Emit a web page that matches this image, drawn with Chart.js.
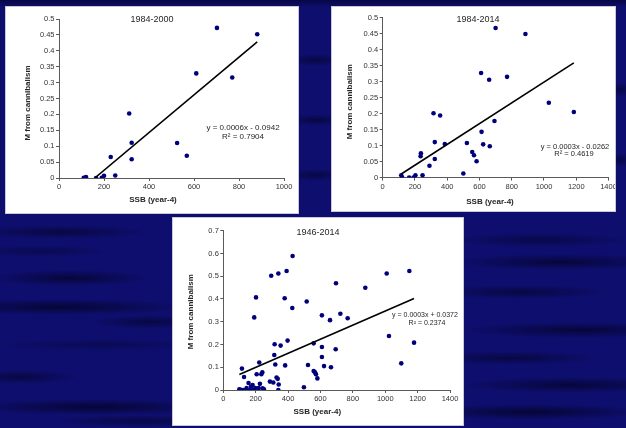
<!DOCTYPE html>
<html>
<head>
<meta charset="utf-8">
<script src="https://cdn.jsdelivr.net/npm/chart.js@4.4.1/dist/chart.umd.min.js"></script>
<style>
  html, body { margin: 0; padding: 0; }
  body {
    width: 626px; height: 428px; overflow: hidden; position: relative;
    background-color: #0e0e6e;
    background-image:
      linear-gradient(180deg, rgba(0,0,25,0.5) 0px, rgba(0,0,25,0) 7px),
      radial-gradient(ellipse 90px 7px at 60px 232px, rgba(0,0,25,0.5), rgba(0,0,25,0)),
      radial-gradient(ellipse 70px 6px at 40px 251px, rgba(0,0,25,0.35), rgba(0,0,25,0)),
      radial-gradient(ellipse 80px 8px at 70px 278px, rgba(0,0,25,0.6), rgba(0,0,25,0)),
      radial-gradient(ellipse 130px 8px at 60px 307px, rgba(0,0,25,0.65), rgba(0,0,25,0)),
      radial-gradient(ellipse 60px 7px at 150px 322px, rgba(0,0,25,0.5), rgba(0,0,25,0)),
      radial-gradient(ellipse 110px 6px at 100px 345px, rgba(0,0,25,0.3), rgba(0,0,25,0)),
      radial-gradient(ellipse 60px 7px at 20px 377px, rgba(0,0,25,0.5), rgba(0,0,25,0)),
      radial-gradient(ellipse 130px 8px at 95px 407px, rgba(0,0,25,0.65), rgba(0,0,25,0)),
      radial-gradient(ellipse 90px 6px at 140px 421px, rgba(0,0,25,0.45), rgba(0,0,25,0)),
      radial-gradient(ellipse 90px 7px at 540px 240px, rgba(0,0,25,0.45), rgba(0,0,25,0)),
      radial-gradient(ellipse 110px 8px at 560px 262px, rgba(0,0,25,0.6), rgba(0,0,25,0)),
      radial-gradient(ellipse 90px 7px at 520px 292px, rgba(0,0,25,0.5), rgba(0,0,25,0)),
      radial-gradient(ellipse 120px 8px at 580px 330px, rgba(0,0,25,0.6), rgba(0,0,25,0)),
      radial-gradient(ellipse 90px 7px at 510px 358px, rgba(0,0,25,0.5), rgba(0,0,25,0)),
      radial-gradient(ellipse 110px 8px at 570px 385px, rgba(0,0,25,0.6), rgba(0,0,25,0)),
      radial-gradient(ellipse 120px 8px at 530px 412px, rgba(0,0,25,0.65), rgba(0,0,25,0)),
      radial-gradient(ellipse 30px 6px at 315px 60px, rgba(0,0,25,0.5), rgba(0,0,25,0)),
      radial-gradient(ellipse 30px 6px at 315px 120px, rgba(0,0,25,0.5), rgba(0,0,25,0)),
      radial-gradient(ellipse 30px 6px at 315px 175px, rgba(0,0,25,0.5), rgba(0,0,25,0)),
      radial-gradient(ellipse 14px 7px at 620px 90px, rgba(0,0,25,0.5), rgba(0,0,25,0)),
      radial-gradient(ellipse 14px 7px at 620px 160px, rgba(0,0,25,0.5), rgba(0,0,25,0));
  }
  .panel { position: absolute; background: #ffffff; box-shadow: 0 0 0 1px #c9c9d6; }
  .panel canvas { display: block; }
</style>
</head>
<body>
<div class="panel" style="left:6px;top:7px;width:292px;height:206px"><canvas id="c1" width="292" height="206"></canvas></div>
<div class="panel" style="left:332px;top:7px;width:283px;height:204px"><canvas id="c2" width="283" height="204"></canvas></div>
<div class="panel" style="left:173px;top:218px;width:290px;height:207px"><canvas id="c3" width="290" height="207"></canvas></div>
<script>
// Spawning stock biomass (SSB, year-4) and natural mortality from cannibalism, by period
const periods = ['1984-2000', '1984-2014', '1946-2014'];

const ssb1984_2000 = [110, 120, 165, 190, 200, 250, 230, 312, 323, 323, 525, 568, 610, 702, 770, 881];
const m1984_2000   = [0.001, 0.003, 0, 0.001, 0.007, 0.008, 0.066, 0.203, 0.111, 0.059, 0.110, 0.070, 0.329, 0.472, 0.316, 0.452];

const ssb1984_2014 = [115, 121, 164, 191, 203, 247, 235, 237, 290, 315, 323, 323, 356, 385, 500, 522, 555, 566, 582, 610, 613, 623, 660, 664, 693, 700, 771, 885, 1030, 1185];
const m1984_2014   = [0.007, 0, 0, 0, 0.007, 0.007, 0.067, 0.076, 0.037, 0.201, 0.111, 0.058, 0.194, 0.105, 0.013, 0.108, 0.080, 0.070, 0.051, 0.327, 0.143, 0.104, 0.306, 0.098, 0.177, 0.468, 0.315, 0.449, 0.234, 0.205];

const ssb1946_2014 = [99, 109, 115, 124, 128, 144, 156, 165, 171, 181, 185, 191, 198, 202, 206, 218, 222, 226, 235, 241, 243, 251,
                      288, 296, 309, 315, 317, 321, 329, 336, 340, 340, 342, 354, 379, 382, 391, 397, 426, 428,
                      498, 515, 523, 558, 558, 566, 572, 581, 609, 609, 609, 622, 659, 665, 694, 696, 723, 768, 877,
                      1009, 1023, 1099, 1149, 1178];
const m1946_2014   = [0.003, 0.001, 0.094, 0, 0.057, 0.009, 0.031, 0, 0.015, 0.022, 0, 0.319, 0.009, 0.407, 0.069, 0.009, 0.121, 0.027, 0.069, 0.078, 0.007, 0.003,
                      0.037, 0.502, 0.033, 0.154, 0.201, 0.112, 0.055, 0.049, 0, 0.512, 0.024, 0.195, 0.403, 0.108, 0.523, 0.217, 0.360, 0.589,
                      0.012, 0.389, 0.110, 0.205, 0.083, 0.078, 0.069, 0.051, 0.328, 0.189, 0.145, 0.105, 0.307, 0.100, 0.179, 0.469, 0.335, 0.315, 0.449,
                      0.512, 0.237, 0.117, 0.523, 0.208];

// Linear trend lines and their printed equations
const fitSlope     = [0.000593, 0.000325, 0.00031];
const fitIntercept = [-0.0942, -0.0262, 0.0372];
const equationText = ['y = 0.0006x - 0.0942', 'y = 0.0003x - 0.0262', 'y = 0.0003x + 0.0372'];
const r2Text       = ['R\u00b2 = 0.7904', 'R\u00b2 = 0.4619', 'R\u00b2 = 0.2374'];

// Axis ticks and titles
const xTicks1000 = [0, 200, 400, 600, 800, 1000];
const xTicks1400 = [0, 200, 400, 600, 800, 1000, 1200, 1400];
const yTicks05   = [0, 0.05, 0.1, 0.15, 0.2, 0.25, 0.3, 0.35, 0.4, 0.45, 0.5];
const yTicks07   = [0, 0.1, 0.2, 0.3, 0.4, 0.5, 0.6, 0.7];
const xAxisTitle = 'SSB (year-4)';
const yAxisTitle = 'M from cannibalism';

const seriesX = [ssb1984_2000, ssb1984_2014, ssb1946_2014];
const seriesY = [m1984_2000, m1984_2014, m1946_2014];
const xTickSets = [xTicks1000, xTicks1400, xTicks1400];
const yTickSets = [yTicks05, yTicks05, yTicks07];

// Panel layout (canvas pixels)
const panels = [
  { id: 'c1', w: 292, h: 206, area: { l: 53, t: 12, r: 278, b: 171 },
    titleAt: [146, 13], xTitleAt: [147, 193], yTitleAt: [22, 96],
    eqAt: [237, 120.5], r2At: [237, 129.5], eqSize: 8 },
  { id: 'c2', w: 283, h: 204, area: { l: 50.7, t: 10.7, r: 276.5, b: 170.6 },
    titleAt: [146, 12.3], xTitleAt: [158, 194.7], yTitleAt: [17.3, 94.7],
    eqAt: [243, 139.7], r2At: [242, 147.3], eqSize: 7.5 },
  { id: 'c3', w: 290, h: 207, area: { l: 50.3, t: 12.7, r: 277, b: 172 },
    titleAt: [145, 14.7], xTitleAt: [144.3, 193.7], yTitleAt: [17.7, 93.7],
    eqAt: [252, 97.5], r2At: [254, 105], eqSize: 7 }
];

const FONT = '"Liberation Sans", Arial, sans-serif';

// Draws the period title, axis titles and trend equation on each panel
const panelText = {
  id: 'panelText',
  afterDraw(chart, args, o) {
    const ctx = chart.ctx;
    ctx.save();
    ctx.textAlign = 'center';
    ctx.textBaseline = 'middle';
    ctx.fillStyle = '#262626';
    ctx.font = '9px ' + FONT;
    ctx.fillText(o.title, o.titleAt[0], o.titleAt[1]);
    ctx.font = 'bold 8px ' + FONT;
    ctx.fillText(o.xTitle, o.xTitleAt[0], o.xTitleAt[1]);
    ctx.save();
    ctx.translate(o.yTitleAt[0], o.yTitleAt[1]);
    ctx.rotate(-Math.PI / 2);
    ctx.fillText(o.yTitle, 0, 0);
    ctx.restore();
    ctx.font = o.eqSize + 'px ' + FONT;
    ctx.fillText(o.eq, o.eqAt[0], o.eqAt[1]);
    ctx.fillText(o.r2, o.r2At[0], o.r2At[1]);
    ctx.restore();
  }
};

function axis(ticks, fitFn) {
  return {
    type: 'linear',
    min: ticks[0],
    max: ticks[ticks.length - 1],
    afterBuildTicks: s => { s.ticks = ticks.map(v => ({ value: v })); },
    afterFit: fitFn,
    grid: { display: true, drawOnChartArea: false, drawTicks: true, tickLength: 3, color: '#5a5a5a', lineWidth: 1 },
    border: { display: true, color: '#5a5a5a', width: 1 },
    ticks: {
      autoSkip: false, maxRotation: 0, padding: 1.5,
      color: '#333333', font: { family: FONT, size: 7.5 },
      callback: v => String(v)
    }
  };
}

panels.forEach((p, i) => {
  const xs = seriesX[i], ys = seriesY[i];
  const xStart = Math.max(Math.min(...xs), -fitIntercept[i] / fitSlope[i]);
  const xEnd = Math.max(...xs);
  const trend = [xStart, xEnd].map(x => ({ x, y: fitSlope[i] * x + fitIntercept[i] }));

  new Chart(document.getElementById(p.id), {
    type: 'scatter',
    data: {
      datasets: [
        {
          data: xs.map((x, k) => ({ x, y: ys[k] })),
          backgroundColor: '#00007c', borderColor: '#00007c',
          pointRadius: 2.3, pointHoverRadius: 2.3, borderWidth: 0, order: 1
        },
        {
          data: trend, showLine: true, borderColor: '#000000', borderWidth: 1.6,
          pointRadius: 0, pointHoverRadius: 0, order: 0
        }
      ]
    },
    options: {
      responsive: false, animation: false, events: [],
      layout: { padding: { left: 0, top: p.area.t, right: p.w - p.area.r, bottom: 0 } },
      plugins: {
        legend: { display: false }, tooltip: { enabled: false },
        panelText: {
          title: periods[i], xTitle: xAxisTitle, yTitle: yAxisTitle,
          eq: equationText[i], r2: r2Text[i],
          titleAt: p.titleAt, xTitleAt: p.xTitleAt, yTitleAt: p.yTitleAt,
          eqAt: p.eqAt, r2At: p.r2At, eqSize: p.eqSize
        }
      },
      scales: {
        x: axis(xTickSets[i], s => { s.height = p.h - p.area.b; s.paddingLeft = 0; s.paddingRight = 0; }),
        y: axis(yTickSets[i], s => { s.width = p.area.l; s.paddingTop = 0; s.paddingBottom = 0; })
      }
    },
    plugins: [panelText]
  });
});
</script>
</body>
</html>
